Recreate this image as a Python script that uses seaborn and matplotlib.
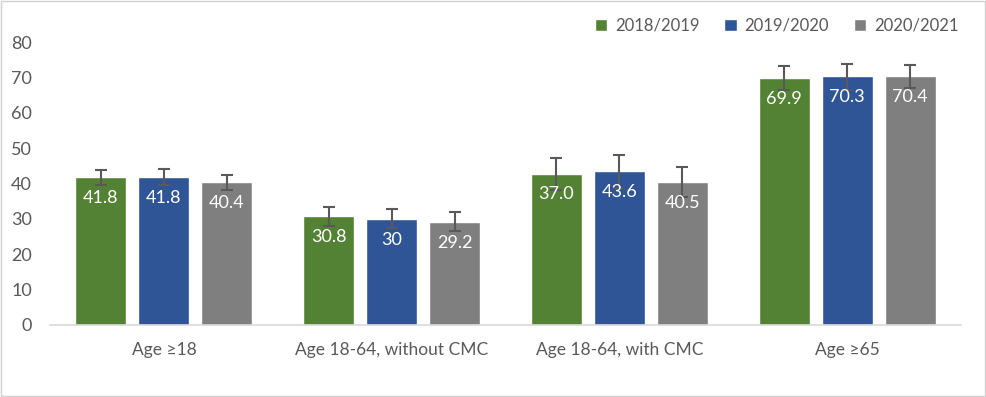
import pandas as pd
import matplotlib.pyplot as plt
import seaborn as sns
from matplotlib.patches import Rectangle

# ---------------------------
# Data
# ---------------------------
categories = ["Age \u226518", "Age 18-64, without CMC", "Age 18-64, with CMC", "Age \u226565"]
seasons = ["2018/2019", "2019/2020", "2020/2021"]

vals_1819 = [41.8, 30.8, 42.8, 69.9]
vals_1920 = [41.8, 30.0, 43.6, 70.3]
vals_2021 = [40.4, 29.2, 40.5, 70.4]

labels_1819 = ["41.8", "30.8", "37.0", "69.9"]
labels_1920 = ["41.8", "30", "43.6", "70.3"]
labels_2021 = ["40.4", "29.2", "40.5", "70.4"]

# confidence interval bounds
lo_1819 = [39.7, 28.1, 38.2, 66.5]
hi_1819 = [43.8, 33.4, 47.1, 73.3]
lo_1920 = [39.7, 27.3, 38.7, 66.5]
hi_1920 = [44.1, 32.8, 48.2, 73.9]
lo_2021 = [38.3, 26.6, 36.1, 67.1]
hi_2021 = [42.4, 32.0, 44.8, 73.5]

colors = ["#548235", "#2F5597", "#7F7F7F"]
text_col = "#595959"

df = pd.DataFrame({
    "category": categories * 3,
    "season": [s for s in seasons for _ in categories],
    "value": vals_1819 + vals_1920 + vals_2021,
})

sns.set_style("white")
plt.rcParams["font.family"] = ["Lato", "DejaVu Sans"]

fig = plt.figure(figsize=(9.87, 3.97), dpi=100)
ax = fig.add_axes([0.0507, 0.1814, 0.923, 0.7126])

sns.barplot(data=df, x="category", y="value", hue="season",
            order=categories, hue_order=seasons, palette=colors,
            width=0.83, gap=0.19, errorbar=None, saturation=1, ax=ax)

labels = [labels_1819, labels_1920, labels_2021]
los = [lo_1819, lo_1920, lo_2021]
his = [hi_1819, hi_1920, hi_2021]
for cont, labs, lo, hi in zip(ax.containers, labels, los, his):
    for bar, lab, l, h in zip(cont, labs, lo, hi):
        xc = bar.get_x() + bar.get_width() / 2
        top = bar.get_height()
        ax.errorbar(xc, (l + h) / 2, yerr=(h - l) / 2, color="#595959",
                    lw=1.5, capsize=4, capthick=1.5, zorder=4)
        ax.annotate(lab, (xc, top), xytext=(0, -15), textcoords="offset points",
                    ha="center", va="center", color="white", fontsize=13, zorder=5)

ax.set_ylim(0, 80)
ax.set_xlim(-0.5, 3.5)
ax.set_yticks(range(0, 81, 10))
ax.set_xlabel("")
ax.set_ylabel("")
ax.tick_params(axis="y", length=0, pad=13, labelsize=13, labelcolor=text_col)
ax.tick_params(axis="x", length=0, pad=12, labelsize=12.5, labelcolor=text_col)
for s in ["top", "right", "left"]:
    ax.spines[s].set_visible(False)
ax.spines["bottom"].set_color("#d9d9d9")
ax.spines["bottom"].set_linewidth(1.2)

sns.move_legend(ax, "upper right", bbox_to_anchor=(0.971, 0.955),
                bbox_transform=fig.transFigure, ncol=3, frameon=False,
                borderaxespad=0, borderpad=0,
                title=None, fontsize=12, handlelength=0.75, handleheight=0.75,
                handletextpad=0.45, columnspacing=1.5)
for t in ax.get_legend().get_texts():
    t.set_color(text_col)

fig.patches.append(Rectangle((0.001, 0.002), 0.997, 0.995, transform=fig.transFigure,
                             fill=False, edgecolor="#d0d0d0", lw=1))

fig.savefig("out.png", dpi=100)
